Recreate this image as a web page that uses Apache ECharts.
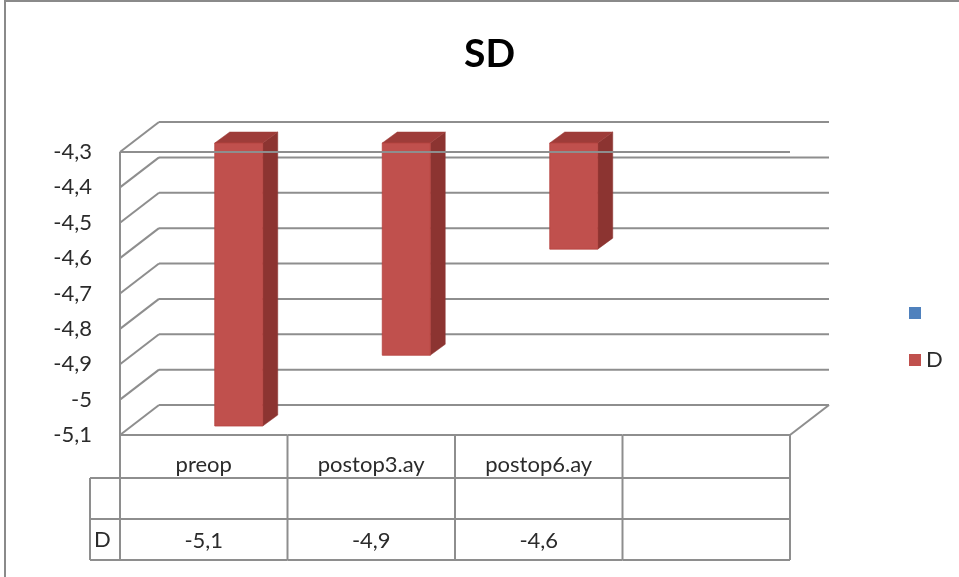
<!DOCTYPE html>
<html>
<head>
<meta charset="utf-8">
<title>SD</title>
<script src="https://cdn.jsdelivr.net/npm/echarts@6/dist/echarts.min.js"></script>
<style>
  html, body { margin: 0; padding: 0; background: #ffffff; }
  #chart { width: 959px; height: 577px; }
</style>
</head>
<body>
<div id="chart"></div>
<script>
// Categories and the values of series "D"; the unnamed blue series carries no values.
const categories = ['preop', 'postop3.ay', 'postop6.ay', ''];
const valuesD = [-5.1, -4.9, -4.6, null];
const seriesNames = [' ', 'D'];
const yTicks = [-5.1, -5.0, -4.9, -4.8, -4.7, -4.6, -4.5, -4.4, -4.3];
const yMin = -5.1;
const yMax = -4.3;

// Pseudo-3D geometry (pixels)
const WALL_DX = 39, WALL_DY = -30;      // depth of the back wall
const BAR_SHIFT = 11, BAR_W = 48, BAR_LIFT = -9; // bar front face within the depth
const BAR_DX = 15, BAR_DY = -11;        // bar depth
const ROW_H = [43, 41, 41];             // data table rows
const LABEL_COL_X = 90;                 // left edge of the row-name column

const GRID_COLOR = '#8e8e8e';
const TEXT_COLOR = '#2b2b2b';
const FONT = 'Lato, "Open Sans", sans-serif';
const FONT_SIZE = 22;
const BLUE = '#4F81BD';
const RED = '#C0504D';

const fmt = v => String(Math.round(v * 10) / 10).replace('.', ',');

function line(x1, y1, x2, y2) {
  return {
    type: 'line',
    shape: { x1, y1, x2, y2 },
    style: { stroke: GRID_COLOR, lineWidth: 2 }
  };
}

// Back wall gridlines and side-wall diagonals, one group per tick
function renderWalls(params, api) {
  const cs = params.coordSys;
  const y = api.coord([0, api.value(1)])[1];
  const x0 = cs.x, x1 = cs.x + cs.width;
  const children = [
    line(x0 + WALL_DX, y + WALL_DY, x1 + WALL_DX, y + WALL_DY),
    line(x0, y, x0 + WALL_DX, y + WALL_DY)
  ];
  if (api.value(1) === yMin) {
    children.push(line(x1, y, x1 + WALL_DX, y + WALL_DY));
  }
  return { type: 'group', children };
}

// Columns hang from the top of the value axis down to their value
function renderBars(params, api) {
  const idx = api.value(0);
  const v = api.value(1);
  if (isNaN(v)) return null;
  const top = api.coord([idx, yMax]);
  const bot = api.coord([idx, v]);
  const L = top[0] + BAR_SHIFT;
  const R = L + BAR_W;
  const T = top[1] + BAR_LIFT;
  const B = bot[1] + BAR_LIFT;
  return {
    type: 'group',
    children: [
      {
        type: 'polygon',
        shape: { points: [[R, T], [R + BAR_DX, T + BAR_DY], [R + BAR_DX, B + BAR_DY], [R, B]] },
        style: { fill: '#8c3431', stroke: '#8c3431', lineWidth: 0.5 }
      },
      {
        type: 'polygon',
        shape: { points: [[L, T], [L + BAR_DX, T + BAR_DY], [R + BAR_DX, T + BAR_DY], [R, T]] },
        style: { fill: '#9e3c39', stroke: '#9e3c39', lineWidth: 0.5 }
      },
      {
        type: 'rect',
        shape: { x: L, y: T, width: R - L, height: B - T },
        style: { fill: RED, stroke: '#b5423f', lineWidth: 0.8 }
      }
    ]
  };
}

// Front edges of the plot box, drawn above the columns
function renderEdges(params, api) {
  const cs = params.coordSys;
  const y = api.coord([0, api.value(1)])[1];
  return {
    type: 'group',
    children: [
      line(cs.x, y, cs.x + cs.width, y),
      line(cs.x, y, cs.x, cs.y + cs.height)
    ]
  };
}

// Data table under the plot: one column per category
function renderTable(params, api) {
  const cs = params.coordSys;
  const idx = api.value(0);
  const v = api.value(1);
  const cx = api.coord([idx, yMax])[0];
  const band = api.size([1, 0])[0];
  const left = cx - band / 2;
  const right = cx + band / 2;
  const y0 = cs.y + cs.height;
  const y1 = y0 + ROW_H[0];
  const y2 = y1 + ROW_H[1];
  const y3 = y2 + ROW_H[2];
  const children = [
    line(left, y0, right, y0),
    line(left, y1, right, y1),
    line(left, y2, right, y2),
    line(left, y3, right, y3),
    line(left, y0, left, y3)
  ];
  if (idx === categories.length - 1) {
    children.push(line(right, y0, right, y3));
  }
  if (idx === 0) {
    children.push(
      line(LABEL_COL_X, y1, left, y1),
      line(LABEL_COL_X, y2, left, y2),
      line(LABEL_COL_X, y3, left, y3),
      line(LABEL_COL_X, y1, LABEL_COL_X, y3),
      {
        type: 'text',
        style: {
          x: LABEL_COL_X + 4, y: (y2 + y3) / 2,
          text: seriesNames[1], align: 'left', verticalAlign: 'middle',
          font: FONT_SIZE + 'px ' + FONT, fill: TEXT_COLOR
        }
      }
    );
  }
  if (!isNaN(v)) {
    children.push({
      type: 'text',
      style: {
        x: cx, y: (y2 + y3) / 2 + 1,
        text: fmt(v), align: 'center', verticalAlign: 'middle',
        font: FONT_SIZE + 'px ' + FONT, fill: TEXT_COLOR
      }
    });
  }
  return { type: 'group', children };
}

const barData = [];
categories.forEach((c, i) => {
  if (valuesD[i] !== null) barData.push([i, valuesD[i]]);
});

const chart = echarts.init(document.getElementById('chart'), null, { renderer: 'canvas' });

chart.setOption({
  backgroundColor: '#ffffff',
  animation: false,
  title: {
    text: 'SD',
    left: 459,
    top: 30,
    textStyle: { fontFamily: FONT, fontSize: 39, fontWeight: 'bold', color: '#000000' }
  },
  graphic: [
    {
      type: 'rect',
      shape: { x: 5, y: 1, width: 1000, height: 700 },
      style: { fill: 'none', stroke: '#8a8a8a', lineWidth: 2 },
      silent: true
    }
  ],
  legend: {
    orient: 'vertical',
    left: 904,
    top: 297,
    itemWidth: 12,
    itemHeight: 12,
    itemGap: 25,
    icon: 'rect',
    data: seriesNames,
    textStyle: { fontFamily: FONT, fontSize: FONT_SIZE, color: TEXT_COLOR }
  },
  grid: { left: 120, right: 169, top: 152, bottom: 142 },
  xAxis: {
    type: 'category',
    data: categories,
    boundaryGap: true,
    axisLine: { show: false },
    axisTick: { show: false },
    axisLabel: {
      margin: 19,
      fontFamily: FONT,
      fontSize: FONT_SIZE,
      color: TEXT_COLOR,
      interval: 0
    },
    splitLine: { show: false }
  },
  yAxis: {
    type: 'value',
    min: yMin,
    max: yMax,
    interval: 0.1,
    axisLine: { show: false },
    axisTick: { show: false },
    splitLine: { show: false },
    axisLabel: {
      margin: 28,
      padding: [4, 0, 0, 0],
      fontFamily: FONT,
      fontSize: FONT_SIZE,
      color: TEXT_COLOR,
      formatter: fmt
    }
  },
  series: [
    {
      name: 'walls',
      type: 'custom',
      renderItem: renderWalls,
      data: yTicks.map(t => [0, t]),
      encode: { x: 0, y: 1 },
      z: 1,
      silent: true
    },
    {
      name: seriesNames[0],
      type: 'custom',
      renderItem: renderBars,
      data: [],
      encode: { x: 0, y: 1 },
      itemStyle: { color: BLUE },
      z: 2
    },
    {
      name: seriesNames[1],
      type: 'custom',
      renderItem: renderBars,
      data: barData,
      encode: { x: 0, y: 1 },
      itemStyle: { color: RED },
      z: 2
    },
    {
      name: 'edges',
      type: 'custom',
      renderItem: renderEdges,
      data: [[0, yMax]],
      encode: { x: 0, y: 1 },
      z: 3,
      silent: true
    },
    {
      name: 'table',
      type: 'custom',
      renderItem: renderTable,
      data: categories.map((c, i) => [i, valuesD[i] === null ? '-' : valuesD[i]]),
      encode: { x: 0, y: 1 },
      z: 3,
      silent: true,
      clip: false
    }
  ]
});
</script>
</body>
</html>
